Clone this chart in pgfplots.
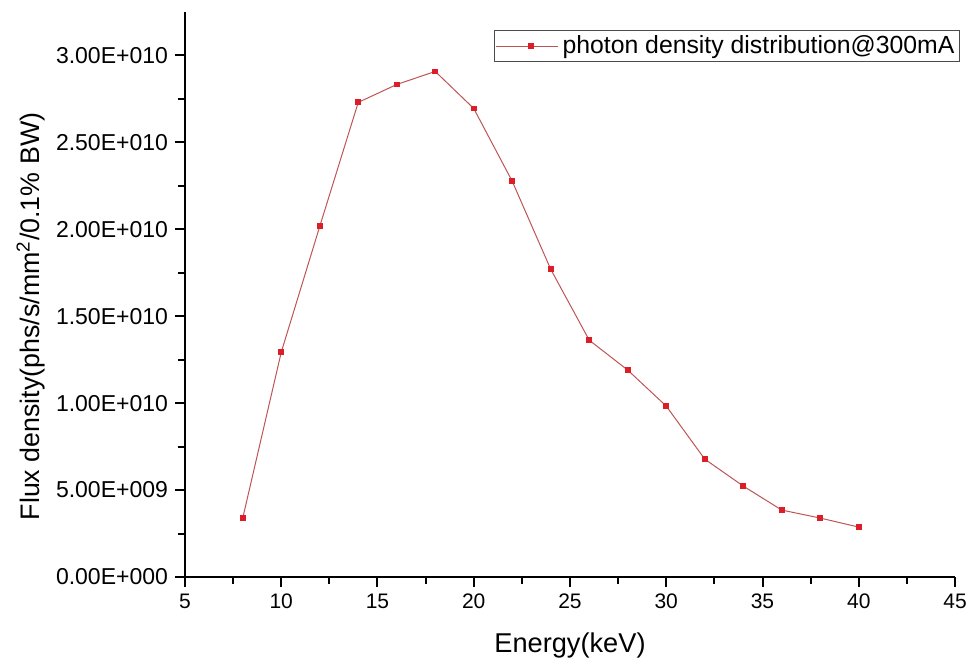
\documentclass[border=0pt]{standalone}
\usepackage{pgfplots}
\pgfplotsset{compat=1.18}
\usepackage{fontspec}
\setmainfont{Liberation Sans}
\definecolor{linered}{RGB}{190,85,85}
\definecolor{markred}{RGB}{220,30,40}
\begin{document}
\begin{tikzpicture}
\begin{axis}[
  scale only axis,
  width=385pt, height=282.5pt,
  at={(0,0)}, anchor=south west,
  xmin=5, xmax=45, ymin=0, ymax=3.25,
  axis x line*=bottom, axis y line*=left,
  axis line style={line width=1.1pt, -},
  xtick={5,10,...,45},
  minor x tick num=1,
  ytick={0,0.5,1,1.5,2,2.5,3},
  yticklabels={0.00E+000,5.00E+009,1.00E+010,1.50E+010,2.00E+010,2.50E+010,3.00E+010},
  minor y tick num=1,
  tick align=outside,
  major tick length=5pt, minor tick length=3.5pt,
  every tick/.style={line width=1pt, black},
  /pgf/number format/assume math mode=true,
  xticklabel style={font=\fontsize{10.5}{12}\selectfont},
  yticklabel style={font=\fontsize{11.5}{13}\selectfont},
  xlabel={Energy(keV)},
  ylabel={Flux density(phs/s/mm\textsuperscript{2}/0.1\% BW)},
  xlabel style={font=\fontsize{13.6}{16}\selectfont, at={(axis description cs:0.5,-0.122)}, anchor=center},
  ylabel style={font=\fontsize{13.4}{16}\selectfont, at={(axis description cs:-0.2,0.461)}, anchor=center},
  legend style={at={(axis description cs:1.0065,0.968)}, anchor=north east,
    font=\fontsize{12.4}{14}\selectfont, draw=black!70, line width=0.6pt,
    inner sep=0.5pt, row sep=0pt},
  legend cell align=left,
  legend image code/.code={
    \path (-4pt,0pt) -- (0pt,0pt);
    \draw[linered, line width=0.5pt] (0pt,0pt) -- (27pt,0pt);
    \fill[markred] (12.2pt,-1.2pt) rectangle (14.8pt,1.2pt);
  },
  clip=false,
]
\addplot[color=linered, line width=0.5pt, mark=square*, mark size=1.2pt,
  mark options={fill=markred, draw=markred}] coordinates {
  (8,0.339) (10,1.293) (12,2.017) (14,2.73) (16,2.833) (18,2.908)
  (20,2.695) (22,2.276) (24,1.77) (26,1.362) (28,1.19) (30,0.983)
  (32,0.678) (34,0.523) (36,0.385) (38,0.339) (40,0.287)
};
\addlegendentry{photon density distribution@300mA}
\end{axis}
\path[use as bounding box] (-92.5pt,-43pt) rectangle (397pt,288.5pt);
\end{tikzpicture}
\end{document}
